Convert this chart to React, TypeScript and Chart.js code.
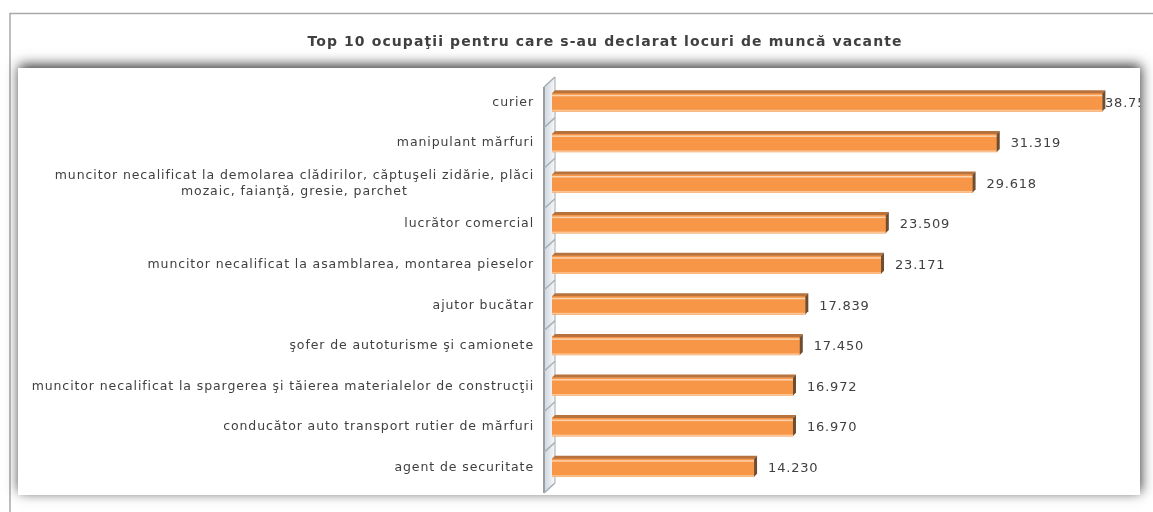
import React, { useEffect, useRef } from 'react';
import { Chart, registerables } from 'chart.js';

Chart.register(...registerables);

const TITLE = 'Top 10 ocupaţii pentru care s-au declarat locuri de muncă vacante';

const categories: (string | string[])[] = [
  'curier',
  'manipulant mărfuri',
  ['muncitor necalificat la demolarea clădirilor, căptuşeli zidărie, plăci', 'mozaic, faianţă, gresie, parchet'],
  'lucrător comercial',
  'muncitor necalificat la asamblarea, montarea pieselor',
  'ajutor bucătar',
  'şofer de autoturisme şi camionete',
  'muncitor necalificat la spargerea şi tăierea materialelor de construcţii',
  'conducător auto transport rutier de mărfuri',
  'agent de securitate',
];

const values: number[] = [38757, 31319, 29618, 23509, 23171, 17839, 17450, 16972, 16970, 14230];

const axisMin = 0;
const axisMax = 40000;

const fmt = (v: number) => {
  const s = String(v);
  return s.length > 3 ? s.slice(0, -3) + '.' + s.slice(-3) : s;
};

const PANEL = { x: 18, y: 68, w: 1122, h: 427 };
const TEXT = '#404040';
const FONT = '"DejaVu Sans", "Noto Sans", sans-serif';

const setSpacing = (ctx: any, v: string) => {
  if ('letterSpacing' in ctx) ctx.letterSpacing = v;
};

const framePlugin = {
  id: 'frame',
  beforeDraw(chart: any) {
    const ctx: CanvasRenderingContext2D = chart.ctx;
    const W = chart.width;
    const H = chart.height;
    ctx.save();
    ctx.fillStyle = '#ffffff';
    ctx.fillRect(0, 0, W, H);

    // outer border
    ctx.strokeStyle = '#a9a9a9';
    ctx.lineWidth = 1.5;
    ctx.beginPath();
    ctx.moveTo(10, H);
    ctx.lineTo(10, 13.5);
    ctx.lineTo(W, 13.5);
    ctx.stroke();

    // title
    ctx.font = `bold 14px ${FONT}`;
    setSpacing(ctx, '1.1px');
    ctx.fillStyle = TEXT;
    ctx.textAlign = 'center';
    ctx.textBaseline = 'middle';
    ctx.fillText(TITLE, 605, 42);
    setSpacing(ctx, '0px');

    // panel with shadow
    ctx.shadowColor = 'rgba(0,0,0,0.8)';
    ctx.shadowBlur = 12;
    ctx.shadowOffsetX = 1;
    ctx.shadowOffsetY = -3;
    ctx.fillStyle = '#ffffff';
    ctx.fillRect(PANEL.x, PANEL.y, PANEL.w, PANEL.h);
    ctx.restore();

    // 3D wall of category axis
    const { left, top, bottom } = chart.chartArea;
    const ys = chart.scales.y;
    const step = ys.getPixelForValue(1) - ys.getPixelForValue(0);
    const xl = left - 8;
    const xr = left + 3;
    const d = 5;
    ctx.save();
    const g = ctx.createLinearGradient(xl, 0, xr, 0);
    g.addColorStop(0, '#cfd6de');
    g.addColorStop(1, '#f7f9fb');
    ctx.fillStyle = g;
    ctx.beginPath();
    ctx.moveTo(xl, top + d);
    ctx.lineTo(xr, top - d);
    ctx.lineTo(xr, bottom - d);
    ctx.lineTo(xl, bottom + d);
    ctx.closePath();
    ctx.fill();
    ctx.strokeStyle = '#a2a8ae';
    ctx.lineWidth = 1;
    ctx.stroke();
    ctx.strokeStyle = '#9a9fa5';
    ctx.lineWidth = 2;
    ctx.beginPath();
    ctx.moveTo(xl, top + d);
    ctx.lineTo(xl, bottom + d);
    ctx.stroke();
    ctx.lineWidth = 1.5;
    ctx.strokeStyle = '#a8b0b8';
    for (let i = 0; i <= categories.length; i++) {
      const yb = ys.getPixelForValue(0) + (i - 0.5) * step;
      ctx.beginPath();
      ctx.moveTo(xl, yb + d);
      ctx.lineTo(xr, yb - d);
      ctx.stroke();
    }
    ctx.restore();
  },
  afterDatasetsDraw(chart: any) {
    const ctx: CanvasRenderingContext2D = chart.ctx;
    const meta = chart.getDatasetMeta(0);
    const area = chart.chartArea;
    ctx.save();
    meta.data.forEach((bar: any, i: number) => {
      const { x, y, base, height } = bar.getProps(['x', 'y', 'base', 'height'], true);
      const t = y - height / 2;
      const b = y + height / 2;
      const d = 3;
      // top face
      ctx.fillStyle = '#b8723b';
      ctx.beginPath();
      ctx.moveTo(base, t);
      ctx.lineTo(base + d, t - d);
      ctx.lineTo(x + d, t - d);
      ctx.lineTo(x, t);
      ctx.closePath();
      ctx.fill();
      // highlights
      ctx.fillStyle = '#fcd4b0';
      ctx.fillRect(base, t + 1.5, x - base, 1.5);
      ctx.fillStyle = '#fbc597';
      ctx.fillRect(base, b - 1.5, x - base, 1.5);
      // end face
      ctx.fillStyle = '#6e4d30';
      ctx.beginPath();
      ctx.moveTo(x, t);
      ctx.lineTo(x + d, t - d);
      ctx.lineTo(x + d, b - d);
      ctx.lineTo(x, b);
      ctx.closePath();
      ctx.fill();

      // value label
      ctx.save();
      ctx.beginPath();
      ctx.rect(PANEL.x, PANEL.y, PANEL.w, PANEL.h);
      ctx.clip();
      ctx.font = `13px ${FONT}`;
      setSpacing(ctx, '0.8px');
      ctx.fillStyle = TEXT;
      ctx.textAlign = 'left';
      ctx.textBaseline = 'middle';
      const lx = Math.min(x + 14, area.right - 15);
      ctx.fillText(fmt(values[i]), lx, y + 1);
      setSpacing(ctx, '0px');
      ctx.restore();
    });

    // category labels
    const ys = chart.scales.y;
    ctx.font = `12.5px ${FONT}`;
    setSpacing(ctx, '0.9px');
    ctx.fillStyle = TEXT;
    ctx.textBaseline = 'middle';
    const rightX = 534;
    const lh = 16;
    categories.forEach((lab, i) => {
      const yc = ys.getPixelForValue(i);
      const lines = Array.isArray(lab) ? lab : [lab];
      const widest = Math.max(...lines.map((l) => ctx.measureText(l).width));
      lines.forEach((line, k) => {
        const yy = yc + (k - (lines.length - 1) / 2) * lh;
        if (lines.length > 1) {
          ctx.textAlign = 'center';
          ctx.fillText(line, rightX - widest / 2, yy);
        } else {
          ctx.textAlign = 'right';
          ctx.fillText(line, rightX, yy);
        }
      });
    });
    setSpacing(ctx, '0px');
    ctx.restore();
  },
};

export default function App() {
  const ref = useRef<HTMLCanvasElement | null>(null);
  useEffect(() => {
    if (!ref.current) return;
    const chart = new Chart(ref.current, {
      type: 'bar',
      data: {
        labels: categories as any,
        datasets: [
          {
            data: values,
            backgroundColor: '#f79646',
            borderWidth: 0,
            barThickness: 18,
          },
        ],
      },
      options: {
        indexAxis: 'y',
        responsive: false,
        animation: false,
        layout: { padding: { left: 552, right: 33, top: 82, bottom: 24 } },
        plugins: {
          legend: { display: false },
          title: { display: false },
          tooltip: { enabled: false },
        },
        scales: {
          x: { display: false, min: axisMin, max: axisMax },
          y: { display: false },
        },
      },
      plugins: [framePlugin],
    });
    return () => chart.destroy();
  }, []);
  return (
    <div style={{ position: 'absolute', left: 0, top: 0, width: 1153, height: 512 }}>
      <canvas ref={ref} width={1153} height={512} />
    </div>
  );
}
